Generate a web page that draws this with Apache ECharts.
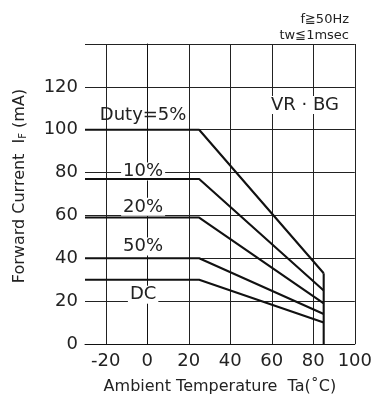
<!DOCTYPE html>
<html>
<head>
<meta charset="utf-8">
<script src="https://cdn.jsdelivr.net/npm/echarts@6/dist/echarts.min.js"></script>
<style>
  html, body { margin: 0; padding: 0; background: #fff; }
  #chart { width: 375px; height: 400px; }
</style>
</head>
<body>
<div id="chart"></div>
<script>
// Derating curves: allowable forward current vs ambient temperature
const xTicks = [-20, 0, 20, 40, 60, 80, 100];
const duty5  = [[-30, 100], [25, 100], [85, 33]];
const duty10 = [[-30, 77], [25, 77], [85, 25]];
const duty20 = [[-30, 59], [25, 59], [85, 19]];
const duty50 = [[-30, 40], [25, 40], [85, 14]];
const dcLine = [[-30, 30], [25, 30], [85, 10]];
const cutoff = [[85, 33], [85, 0]];

// curve labels anchored in data space; 'mask' hides the grid behind the text
const curveLabels = [
  { text: 'Duty=5%', at: [-2, 106.5], mask: false },
  { text: '10%',     at: [-2, 80.5],  mask: true },
  { text: '20%',     at: [-2, 64],    mask: true },
  { text: '50%',     at: [-2, 45.5],  mask: true },
  { text: 'DC',      at: [-2, 23],    mask: true },
  { text: 'VR · BG', at: [76, 111.5], mask: true }
];

const FONT = 'DejaVu Sans, Liberation Sans, sans-serif';
const INK = '#222';
const LINE = '#111';

const chart = echarts.init(document.getElementById('chart'), null, { renderer: 'canvas' });

function curve(data) {
  return {
    type: 'line', data: data, symbol: 'none', silent: true,
    lineStyle: { color: LINE, width: 2.1 }, z: 6
  };
}

const series = [duty5, duty10, duty20, duty50, dcLine, cutoff].map(curve);
series.push({
  type: 'scatter', data: [], silent: true,
  markPoint: {
    symbol: 'circle', symbolSize: 0, silent: true,
    data: curveLabels.map(l => ({
      coord: l.at,
      label: {
        show: true, position: 'inside', formatter: l.text,
        fontFamily: FONT, fontSize: 18, color: INK,
        backgroundColor: l.mask ? '#fff' : 'transparent', padding: [0, 2]
      }
    }))
  },
  z: 4
});

chart.setOption({
  backgroundColor: '#fff',
  animation: false,
  grid: { left: 85, right: 17, top: 44, bottom: 53 },
  title: [
    { text: 'f≧50Hz', right: 21, top: 8,
      textStyle: { fontFamily: FONT, fontSize: 13, fontWeight: 'normal', color: INK } },
    { text: 'tw≦1msec', right: 21, top: 24,
      textStyle: { fontFamily: FONT, fontSize: 13, fontWeight: 'normal', color: INK } }
  ],
  xAxis: {
    type: 'value', min: -30, max: 100,
    name: 'Ambient Temperature  Ta(˚C)', nameLocation: 'middle', nameGap: 35,
    nameTextStyle: { fontFamily: FONT, fontSize: 16, color: INK },
    axisLine: { show: true, lineStyle: { color: LINE, width: 1 } },
    axisTick: { show: false, customValues: xTicks },
    axisLabel: { customValues: xTicks, fontFamily: FONT, fontSize: 18, color: INK, margin: 8 },
    splitLine: { show: true, lineStyle: { color: '#222', width: 1 } }
  },
  yAxis: {
    type: 'value', min: 0, max: 140, interval: 20,
    name: 'Forward Current  I{s|F} (mA)', nameLocation: 'middle', nameGap: 57,
    nameRotate: 90,
    nameTextStyle: { fontFamily: FONT, fontSize: 16, color: INK, padding: [0, 0, 0, 16],
      rich: { s: { fontFamily: FONT, fontSize: 10, color: INK, verticalAlign: 'bottom', padding: [6, 0, 0, 0] } } },
    axisLine: { show: true, lineStyle: { color: LINE, width: 1 } },
    axisTick: { show: false },
    axisLabel: { fontFamily: FONT, fontSize: 18, color: INK, margin: 7,
      formatter: v => (v === 140 ? '' : String(v)) },
    splitLine: { show: true, lineStyle: { color: '#222', width: 1 } }
  },
  series: series
});
</script>
</body>
</html>
